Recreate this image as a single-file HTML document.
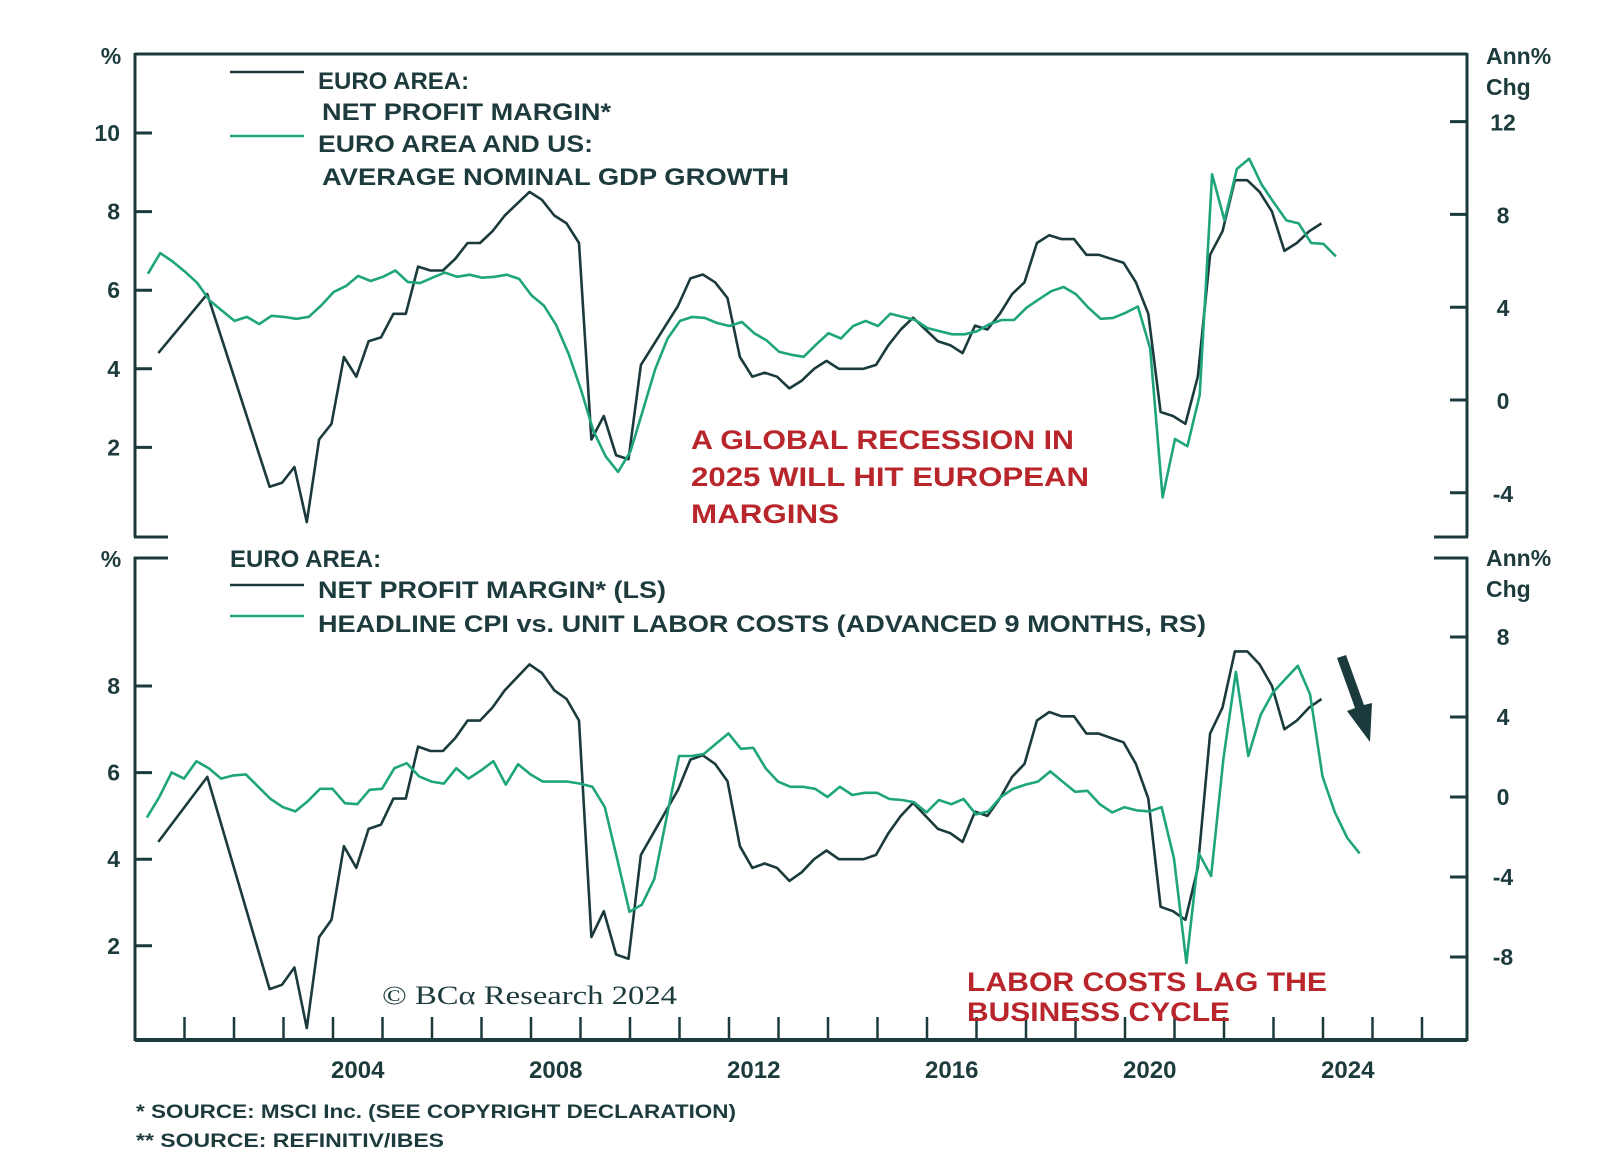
<!DOCTYPE html>
<html><head><meta charset="utf-8"><style>
html,body{margin:0;padding:0;background:#fff;}
svg{display:block;font-family:"Liberation Sans",sans-serif;}
.t{fill:#1d3b3d;font-weight:bold;}
.r{fill:#b8262c;font-weight:bold;}
</style></head><body>
<svg id="chart" width="1600" height="1168" viewBox="0 0 1600 1168" xmlns="http://www.w3.org/2000/svg"></svg>
<script>
// ---- data ----
const marginEarlyDates = [2000.47, 2001.46];
const marginEarlyValues = [4.4, 5.9];
const marginStart = 2002.72;
const marginValues = [1.0,1.1,1.5,0.1,2.2,2.6,4.3,3.8,4.7,4.8,5.4,5.4,6.6,6.5,6.5,6.8,7.2,7.2,7.5,7.9,8.2,8.5,8.3,7.9,7.7,7.2,2.2,2.8,1.8,1.7,4.1,4.6,5.1,5.6,6.3,6.4,6.2,5.8,4.3,3.8,3.9,3.8,3.5,3.7,4.0,4.2,4.0,4.0,4.0,4.1,4.6,5.0,5.3,5.0,4.7,4.6,4.4,5.1,5.0,5.4,5.9,6.2,7.2,7.4,7.3,7.3,6.9,6.9,6.8,6.7,6.2,5.4,2.9,2.8,2.6,3.8,6.9,7.5,8.8,8.8,8.5,8.0,7.0,7.2,7.5,7.7];
const gdpStart = 2000.26;
const gdpValues = [5.44,6.33,5.97,5.53,5.04,4.29,3.85,3.41,3.58,3.27,3.63,3.58,3.50,3.58,4.07,4.65,4.91,5.35,5.13,5.31,5.58,5.09,5.04,5.27,5.49,5.31,5.40,5.27,5.31,5.40,5.22,4.51,4.07,3.23,1.99,0.44,-1.33,-2.43,-3.10,-2.21,-0.44,1.33,2.65,3.41,3.58,3.54,3.32,3.19,3.36,2.88,2.57,2.08,1.95,1.86,2.39,2.88,2.65,3.19,3.41,3.19,3.72,3.58,3.45,3.10,2.96,2.83,2.83,2.96,3.27,3.45,3.45,3.98,4.34,4.69,4.87,4.56,3.98,3.50,3.54,3.76,4.03,2.21,-4.2,-1.68,-1.99,0.22,9.73,7.74,9.96,10.4,9.29,8.50,7.74,7.61,6.77,6.73,6.19];
const cpiStart = 2000.24;
const cpiValues = [-1.03,0,1.23,0.92,1.79,1.44,0.92,1.08,1.13,0.51,-0.10,-0.51,-0.72,-0.21,0.41,0.41,-0.31,-0.36,0.36,0.41,1.44,1.69,1.03,0.77,0.67,1.44,0.92,1.33,1.79,0.62,1.64,1.13,0.77,0.77,0.77,0.67,0.51,-0.51,-3.08,-5.74,-5.38,-4.10,-1.03,2.05,2.05,2.15,2.67,3.18,2.41,2.46,1.44,0.77,0.51,0.51,0.41,0,0.51,0.10,0.21,0.21,-0.10,-0.15,-0.26,-0.77,-0.15,-0.36,-0.10,-0.87,-0.72,0,0.41,0.62,0.77,1.28,0.77,0.26,0.31,-0.36,-0.77,-0.51,-0.67,-0.72,-0.51,-3.08,-8.3,-2.82,-3.95,1.95,6.26,2.05,4.10,5.23,5.90,6.56,5.13,1.03,-0.77,-2.05,-2.82];
const yearLabels = [2004, 2008, 2012, 2016, 2020, 2024];
const topLeftTicks = [10, 8, 6, 4, 2];
const topRightTicks = [12, 8, 4, 0, -4];
const botLeftTicks = [8, 6, 4, 2];
const botRightTicks = [8, 4, 0, -4, -8];

// ---- scales ----
const X0 = 135, X1 = 1467;
const xS = t => X0 + (t - 2000) * 49.5;
const yTL = v => 133 + (10 - v) * 39.3;
const yTR = v => 400 - v * 23.2;
const yBL = v => 686 + (8 - v) * 43.3;
const yBR = v => 797 - v * 20;

const svg = document.getElementById('chart');
const NS = 'http://www.w3.org/2000/svg';
function mk(tag, attrs, parent) {
  const e = document.createElementNS(NS, tag);
  for (const k in attrs) e.setAttribute(k, attrs[k]);
  (parent || svg).appendChild(e);
  return e;
}
const DARK = '#1b3a3c', GREEN = '#1fa57c';

function txt(s, x, y, size, cls, name, anchor, len) {
  const e = mk('text', {x: x, y: y, 'font-size': size, class: cls, 'text-anchor': anchor || 'start'});
  if (len) { e.setAttribute('textLength', len); e.setAttribute('lengthAdjust', 'spacingAndGlyphs'); }
  e.textContent = s;
  
  
  return e;
}
function line(x1, y1, x2, y2, w, name) {
  const e = mk('line', {x1: x1, y1: y1, x2: x2, y2: y2, stroke: DARK, 'stroke-width': w});
  
  
  return e;
}
function series(dates, vals, yf, color, name) {
  const pts = vals.map((v, i) => xS(dates(i)).toFixed(1) + ',' + yf(v).toFixed(1)).join(' ');
  const e = mk('polyline', {points: pts, fill: 'none', stroke: color, 'stroke-width': 2.6, 'stroke-linejoin': 'round'});
  
  
}
const marginDates = i => i < marginEarlyDates.length ? marginEarlyDates[i] : marginStart + (i - marginEarlyDates.length) * 0.25;
const marginAll = marginEarlyValues.concat(marginValues);

// ---- top panel frame ----
line(X0, 54, X1, 54, 3, 'top-panel-top-border');
line(X0, 53, X0, 537, 3, 'top-left-axis');
line(X1, 53, X1, 537, 3, 'top-right-axis');
line(X0 - 1, 537, X0 + 33, 537, 3, 'top-panel-bottom-left-stub');
line(X1 - 33, 537, X1 + 1, 537, 3, 'top-panel-bottom-right-stub');
topLeftTicks.forEach(v => {
  line(X0, yTL(v), X0 + 17, yTL(v), 3, 'top-left-tick');
  txt(String(v), 120, yTL(v) + 8, 23, 't', 'top-left-tick-label', 'end');
});
topRightTicks.forEach(v => {
  line(X1 - 17, yTR(v), X1, yTR(v), 3, 'top-right-tick');
  txt(String(v), 1503, yTR(v) + 9, 23, 't', 'top-right-tick-label', 'middle');
});
txt('%', 111, 64, 23, 't', 'top-left-unit', 'middle');
txt('Ann%', 1486, 64, 23, 't', 'top-right-unit');
txt('Chg', 1486, 95, 23, 't', 'top-right-unit-2');

// ---- bottom panel frame ----
line(X0 - 1, 558, X0 + 33, 558, 3, 'bottom-panel-top-left-stub');
line(X1 - 33, 558, X1 + 1, 558, 3, 'bottom-panel-top-right-stub');
line(X0, 557, X0, 1041, 3, 'bottom-left-axis');
line(X1, 557, X1, 1041, 3, 'bottom-right-axis');
line(X0, 1040, X1, 1040, 4, 'x-axis');
botLeftTicks.forEach(v => {
  line(X0, yBL(v), X0 + 17, yBL(v), 3, 'bottom-left-tick');
  txt(String(v), 120, yBL(v) + 8, 23, 't', 'bottom-left-tick-label', 'end');
});
botRightTicks.forEach(v => {
  line(X1 - 17, yBR(v), X1, yBR(v), 3, 'bottom-right-tick');
  txt(String(v), 1503, yBR(v) + 8, 23, 't', 'bottom-right-tick-label', 'middle');
});
txt('%', 111, 567, 23, 't', 'bottom-left-unit', 'middle');
txt('Ann%', 1486, 566, 23, 't', 'bottom-right-unit');
txt('Chg', 1486, 597, 23, 't', 'bottom-right-unit-2');
for (let y = 2001; y <= 2026; y++) line(xS(y), 1040, xS(y), 1017, 2.5, 'x-tick');
yearLabels.forEach(y => txt(String(y), xS(y + 0.5), 1078, 24, 't', 'x-tick-label', 'middle'));

// ---- series ----
series(marginDates, marginAll, yTL, DARK, 'top-net-profit-margin-line');
series(i => gdpStart + i * 0.25, gdpValues, yTR, GREEN, 'top-nominal-gdp-growth-line');
series(marginDates, marginAll, yBL, DARK, 'bottom-net-profit-margin-line');
series(i => cpiStart + i * 0.25, cpiValues, yBR, GREEN, 'bottom-cpi-vs-ulc-line');

// ---- legends ----
line(230, 72, 304, 72, 2.6, 'top-legend-margin-swatch');
const gsw = line(230, 136, 304, 136, 2.6, 'top-legend-gdp-swatch'); gsw.setAttribute('stroke', GREEN);
txt('EURO AREA:', 318, 89, 24, 't', 'top-legend-label-1');
txt('NET PROFIT MARGIN*', 322, 120, 24, 't', 'top-legend-label-2', 'start', 289);
txt('EURO AREA AND US:', 318, 152, 24, 't', 'top-legend-label-3', 'start', 275);
txt('AVERAGE NOMINAL GDP GROWTH', 322, 185, 24, 't', 'top-legend-label-4', 'start', 467);

txt('EURO AREA:', 230, 567, 24, 't', 'bottom-legend-title');
line(230, 585, 304, 585, 2.6, 'bottom-legend-margin-swatch');
const gsw2 = line(230, 616, 304, 616, 2.6, 'bottom-legend-cpi-swatch'); gsw2.setAttribute('stroke', GREEN);
txt('NET PROFIT MARGIN* (LS)', 318, 598, 24, 't', 'bottom-legend-label-1', 'start', 348);
txt('HEADLINE CPI vs. UNIT LABOR COSTS (ADVANCED 9 MONTHS, RS)', 318, 632, 24, 't', 'bottom-legend-label-2', 'start', 888);

// ---- annotations ----
txt('A GLOBAL RECESSION IN', 691, 449, 27, 'r', 'annotation-line-1', 'start', 383);
txt('2025 WILL HIT EUROPEAN', 691, 486, 27, 'r', 'annotation-line-2', 'start', 398);
txt('MARGINS', 691, 523, 27, 'r', 'annotation-line-3', 'start', 148);
txt('LABOR COSTS LAG THE', 967, 991, 27, 'r', 'labor-annotation-1', 'start', 360);
txt('BUSINESS CYCLE', 967, 1021, 27, 'r', 'labor-annotation-2', 'start', 263);
const cr = txt('© BCα Research 2024', 382, 1004, 26, 't', 'copyright', 'start', 295);
cr.setAttribute('style', 'font-family:"Liberation Serif",serif;font-weight:normal');

const ar = mk('path', {d: 'M1337,658 L1355,708 L1347,711 L1370,742 L1372,703 L1364,705 L1346,655 Z', fill: DARK});



// ---- footnotes ----
txt('*  SOURCE: MSCI Inc. (SEE COPYRIGHT DECLARATION)', 136, 1118, 19, 't', 'footnote-1', 'start', 600);
txt('** SOURCE: REFINITIV/IBES', 136, 1147, 19, 't', 'footnote-2', 'start', 308);
</script>
</body></html>
